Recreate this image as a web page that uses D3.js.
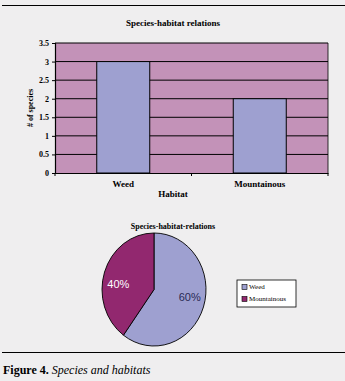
<!DOCTYPE html>
<html>
<head>
<meta charset="utf-8">
<script src="https://cdn.jsdelivr.net/npm/d3@7"></script>
<style>
  html, body { margin: 0; padding: 0; background: #efeeef; }
  svg { display: block; font-family: "Liberation Serif", "DejaVu Serif", serif; }
</style>
</head>
<body>
<div id="chart"></div>
<script>
// datos
const habitats = ["Weed", "Mountainous"];
const speciesCount = [3, 2];
const yTicks = [0, 0.5, 1, 1.5, 2, 2.5, 3, 3.5];
const pieShares = [60, 40];
const pieColors = ["#9ea0d0", "#92286f"];

const W = 345, H = 381;
const svg = d3.select("#chart").append("svg")
    .attr("width", W)
    .attr("height", H);

// líneas del marco de la figura
svg.append("line").attr("x1", 2).attr("x2", W).attr("y1", 5.5).attr("y2", 5.5)
    .attr("stroke", "#000").attr("stroke-width", 1.2);
svg.append("line").attr("x1", 2).attr("x2", W).attr("y1", 352.5).attr("y2", 352.5)
    .attr("stroke", "#000").attr("stroke-width", 1.2);

// ---- gráfico de barras ----
const plot = { left: 55, right: 328, top: 43, bottom: 173 };

const x = d3.scaleBand()
    .domain(habitats)
    .range([plot.left, plot.right])
    .paddingInner(0)
    .paddingOuter(0);

const y = d3.scaleLinear()
    .domain([0, 3.5])
    .range([plot.bottom, plot.top]);

svg.append("text")
    .attr("x", 173).attr("y", 26)
    .attr("text-anchor", "middle")
    .attr("font-size", 9).attr("font-weight", "bold")
    .text("Species-habitat relations");

svg.append("rect")
    .attr("x", plot.left).attr("y", plot.top)
    .attr("width", plot.right - plot.left)
    .attr("height", plot.bottom - plot.top)
    .attr("fill", "#c392b8");

// rejilla
svg.append("g")
    .selectAll("line")
    .data(yTicks.filter(d => d > 0))
    .join("line")
    .attr("x1", plot.left).attr("x2", plot.right)
    .attr("y1", d => y(d)).attr("y2", d => y(d))
    .attr("stroke", "#000").attr("stroke-width", 1);

const barW = 53;
svg.append("g")
    .selectAll("rect")
    .data(habitats)
    .join("rect")
    .attr("x", (d) => x(d) + x.bandwidth() / 2 - barW / 2)
    .attr("y", (d, i) => y(speciesCount[i]))
    .attr("width", barW)
    .attr("height", (d, i) => y(0) - y(speciesCount[i]))
    .attr("fill", "#9ea0d0")
    .attr("stroke", "#000").attr("stroke-width", 1);

// borde derecho
svg.append("line")
    .attr("x1", plot.right).attr("x2", plot.right)
    .attr("y1", plot.top).attr("y2", plot.bottom)
    .attr("stroke", "#000").attr("stroke-width", 0.8);

// eje Y
const yAxis = svg.append("g")
    .attr("transform", `translate(${plot.left},0)`)
    .call(d3.axisLeft(y).tickValues(yTicks).tickSize(3).tickFormat(d3.format("")));
yAxis.selectAll("text").attr("font-size", 8).attr("font-weight", "bold")
    .attr("font-family", "Liberation Serif, serif").attr("fill", "#000");
yAxis.select(".domain").attr("stroke-width", 1.2);

// eje X
const xAxis = svg.append("g")
    .attr("transform", `translate(0,${plot.bottom})`)
    .call(d3.axisBottom(x).tickSize(0).tickSizeOuter(0));
xAxis.selectAll("text").attr("font-size", 9).attr("font-weight", "bold")
    .attr("font-family", "Liberation Serif, serif").attr("fill", "#000")
    .attr("dy", "1.25em");
xAxis.select(".domain").attr("stroke-width", 1.2);
xAxis.selectAll(".sep")
    .data([plot.left, x(habitats[1]), plot.right])
    .join("line")
    .attr("class", "sep")
    .attr("x1", d => d).attr("x2", d => d)
    .attr("y1", 0).attr("y2", 3)
    .attr("stroke", "#000");

svg.append("text")
    .attr("x", 173).attr("y", 197)
    .attr("text-anchor", "middle")
    .attr("font-size", 9).attr("font-weight", "bold")
    .text("Habitat");

svg.append("text")
    .attr("transform", "translate(33,108) rotate(-90)")
    .attr("text-anchor", "middle")
    .attr("font-size", 8).attr("font-weight", "bold")
    .text("# of species");

// ---- gráfico circular ----
svg.append("text")
    .attr("x", 173).attr("y", 229)
    .attr("text-anchor", "middle")
    .attr("font-size", 8).attr("font-weight", "bold")
    .text("Species-habitat-relations");

const cx = 154, cy = 289.5, rx = 52, ry = 56.5;
const pieGen = d3.pie().sort(null)(pieShares);
const arc = d3.arc().innerRadius(0).outerRadius(ry);

const pieG = svg.append("g")
    .attr("transform", `translate(${cx},${cy}) scale(${rx / ry},1)`);

pieG.selectAll("path")
    .data(pieGen)
    .join("path")
    .attr("d", arc)
    .attr("fill", (d, i) => pieColors[i])
    .attr("stroke", "#000")
    .attr("stroke-width", 0.9)
    .attr("vector-effect", "non-scaling-stroke");

const labelArc = d3.arc().innerRadius(ry * 0.6).outerRadius(ry * 0.6);
svg.append("g")
    .selectAll("text")
    .data(pieGen)
    .join("text")
    .attr("x", d => cx + labelArc.centroid(d)[0] * rx / ry + (d.index === 0 ? 6 : -6))
    .attr("y", d => cy + labelArc.centroid(d)[1] + (d.index === 0 ? -3 : 5))
    .attr("text-anchor", "middle")
    .attr("dominant-baseline", "central")
    .attr("font-family", "Liberation Sans, Arial, sans-serif")
    .attr("font-size", 11)
    .attr("fill", (d, i) => i === 0 ? "#2a2a55" : "#fff")
    .text(d => d.data + "%");

// leyenda
const legend = svg.append("g").attr("transform", "translate(237,280)");
legend.append("rect")
    .attr("x", 0).attr("y", 0).attr("width", 59).attr("height", 27)
    .attr("fill", "#fff").attr("stroke", "#000").attr("stroke-width", 0.8);
legend.selectAll(".sw")
    .data(habitats)
    .join("rect")
    .attr("class", "sw")
    .attr("x", 5).attr("y", (d, i) => 4.5 + i * 12)
    .attr("width", 5).attr("height", 5)
    .attr("fill", (d, i) => pieColors[i])
    .attr("stroke", "#000").attr("stroke-width", 0.6);
legend.selectAll(".lt")
    .data(habitats)
    .join("text")
    .attr("class", "lt")
    .attr("x", 12).attr("y", (d, i) => 7 + i * 12)
    .attr("dominant-baseline", "central")
    .attr("font-size", 7)
    .text(d => d);

// pie de figura
const cap = svg.append("text")
    .attr("x", 3).attr("y", 374)
    .attr("font-size", 12);
cap.append("tspan").attr("font-weight", "bold").text("Figure 4. ");
cap.append("tspan").attr("font-style", "italic").text("Species and habitats");
</script>
</body>
</html>
